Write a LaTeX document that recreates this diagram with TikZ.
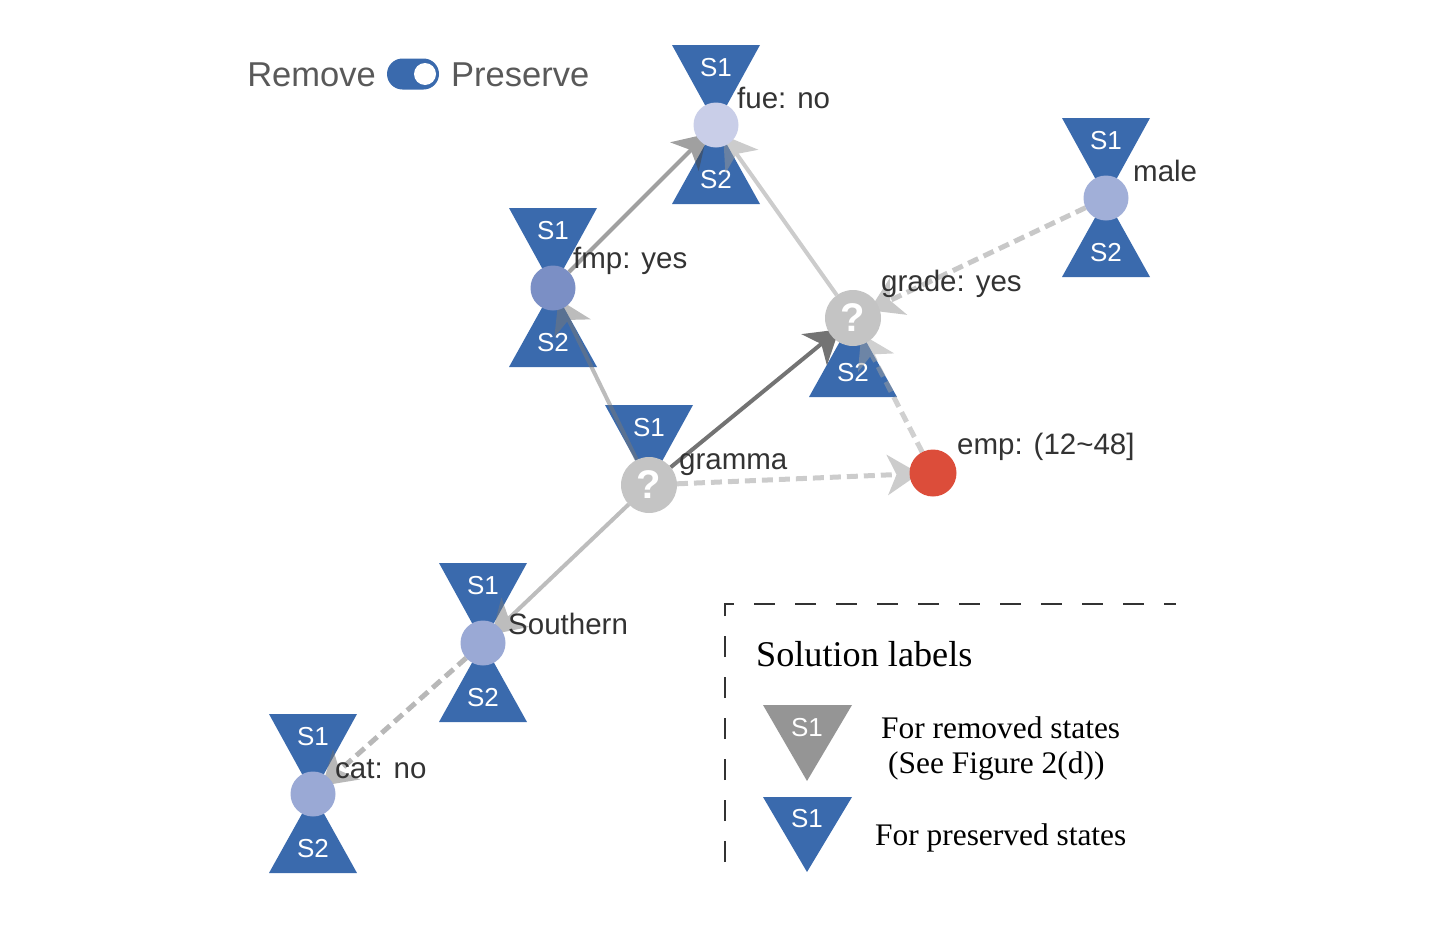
\documentclass[tikz,border=0pt]{standalone}
\usepackage{fontspec}
\setmainfont{Liberation Sans}
\newfontfamily\legfont{Liberation Serif}
\usetikzlibrary{arrows.meta,calc}
\pgfdeclarelayer{bg}
\pgfdeclarelayer{mid}
\pgfsetlayers{bg,mid,main}
\definecolor{triblue}{HTML}{3A6AAD}
\definecolor{trigray}{HTML}{959595}
\definecolor{qgray}{HTML}{C4C4C4}
\definecolor{cfue}{HTML}{C9CEE8}
\definecolor{cmale}{HTML}{A1AFD8}
\definecolor{cfmp}{HTML}{7B8FC5}
\definecolor{csouth}{HTML}{9AA9D5}
\definecolor{cemp}{HTML}{DC4D3A}
\definecolor{labelc}{HTML}{333333}
\definecolor{togtext}{HTML}{595959}
\definecolor{eA}{HTML}{414141}
\definecolor{eB}{HTML}{999999}
\definecolor{eC}{HTML}{797979}
\definecolor{eD}{HTML}{444444}
\definecolor{eE}{HTML}{919191}
\definecolor{eF}{HTML}{A1A1A1}
\definecolor{eG}{HTML}{7B7B7B}
\definecolor{eH}{HTML}{717171}
\begin{document}
\begin{tikzpicture}[x=1pt,y=-1pt,
  stnode/.style={circle,inner sep=0pt,outer sep=0pt,minimum size=45pt},
  qnode/.style={circle,fill=qgray,inner sep=0pt,outer sep=0pt,minimum size=56pt,text=white,font=\fontsize{40}{40}\selectfont\bfseries},
  lbl/.style={anchor=base west,inner sep=0pt,text=labelc,font=\fontsize{29.5}{30}\selectfont},
  slbl/.style={inner sep=0pt,text=white,font=\fontsize{26}{26}\selectfont},
  tri/.style={fill=triblue},
  edgeline/.style={line width=4pt,shorten >=-10pt,-{Stealth[length=32pt,width=40pt,inset=9pt]}},
  dashline/.style={edgeline,line width=5pt,dash pattern=on 11pt off 6pt},
  edgegrp/.style={transparency group,opacity=0.5},
  legtext/.style={anchor=base west,inner sep=0pt,text=black,font=\legfont\fontsize{31.4}{32}\selectfont},
  togfont/.style={inner sep=0pt,text=togtext,font=\fontsize{34.5}{35}\selectfont}
]
\useasboundingbox (0,0) rectangle (1444,932);

% state circles
\node[stnode,fill=cfue] (fue) at (716,125) {};
\node[stnode,fill=cmale] (male) at (1106,198) {};
\node[stnode,fill=cfmp] (fmp) at (553,288) {};
\node[qnode] (grade) at (853,318) {?};
\node[qnode] (gramma) at (649,485) {?};
\node[stnode,fill=cemp,minimum size=47pt] (emp) at (933,473) {};
\node[stnode,fill=csouth] (south) at (483,643) {};
\node[stnode,fill=csouth] (cat) at (313,794) {};

% solution triangles
\begin{pgfonlayer}{bg}
\foreach \n in {fue,male,fmp,gramma,south,cat}{
  \fill[tri] (\n.center) ++(-44,-80) -- ++(88,0) -- (\n.center) -- cycle;
  \node[slbl] (\n S1) at ($(\n.center)+(0,-57)$) {S1};
}
\foreach \n in {fue,male,fmp,grade,south,cat}{
  \fill[tri] (\n.center) ++(-44,79) -- ++(88,0) -- (\n.center) -- cycle;
  \node[slbl] (\n S2) at ($(\n.center)+(0,55)$) {S2};
}
\end{pgfonlayer}

% edges
\begin{pgfonlayer}{mid}
\begin{scope}[edgegrp]\draw[edgeline,eA] (fmp) -- (fue);\end{scope}
\begin{scope}[edgegrp]\draw[edgeline,eB] (grade) -- (fue);\end{scope}
\begin{scope}[edgegrp]\draw[edgeline,eC] (gramma) -- (fmp);\end{scope}
\begin{scope}[transparency group,opacity=0.75]\draw[edgeline,eD] (gramma) -- (grade);\end{scope}
\begin{scope}[edgegrp]\draw[dashline,eE] (male) -- (grade);\end{scope}
\begin{scope}[edgegrp]\draw[dashline,eF] (emp) -- (grade);\end{scope}
\begin{scope}[edgegrp]\draw[dashline,eB] (gramma) -- (emp);\end{scope}
\begin{scope}[edgegrp]\draw[edgeline,eG] (gramma) -- (south);\end{scope}
\begin{scope}[edgegrp]\draw[dashline,eH] (south) -- (cat);\end{scope}
\end{pgfonlayer}

% labels
\node[lbl] (lfue) at (737,108) {fue: no};
\node[lbl] (lmale) at (1133,181) {male};
\node[lbl] (lfmp) at (573,268) {fmp: yes};
\node[lbl] (lgrade) at (881,291) {grade: yes};
\node[lbl] (lgramma) at (679,469) {gramma};
\node[lbl] (lemp) at (957,454) {emp: (12\textasciitilde48]};
\node[lbl] (lsouth) at (508,634) {Southern};
\node[lbl] (lcat) at (335,778) {cat: no};

% toggle
\node[togfont,anchor=base east] (remove) at (376,86) {Remove};
\node[togfont,anchor=base west] (preserve) at (451,86) {Preserve};
\node[fill=triblue,rounded corners=15.5pt,minimum width=52pt,minimum height=31pt,inner sep=0pt] (toggle) at (413,74) {};
\node[circle,fill=white,minimum size=22pt,inner sep=0pt] (knob) at (425,74) {};

% legend
\draw[line width=2pt,color=labelc,dash pattern=on 21pt off 20pt] (725,862) -- (725,604) -- (1176,604);
\node[anchor=base west,inner sep=0pt,text=black,font=\legfont\fontsize{36.2}{37}\selectfont] (legtitle) at (756,666) {Solution labels};
\fill[trigray] (763,705) -- (852,705) -- (807,781) -- cycle;
\node[slbl] (legS1a) at (807,728) {S1};
\fill[triblue] (763,797) -- (852,797) -- (807,872) -- cycle;
\node[slbl] (legS1b) at (807,819) {S1};
\node[legtext] (legrem) at (881,738) {For removed states};
\node[legtext] (legsee) at (888,773) {(See Figure 2(d))};
\node[legtext] (legpres) at (875,845) {For preserved states};
\end{tikzpicture}
\end{document}
